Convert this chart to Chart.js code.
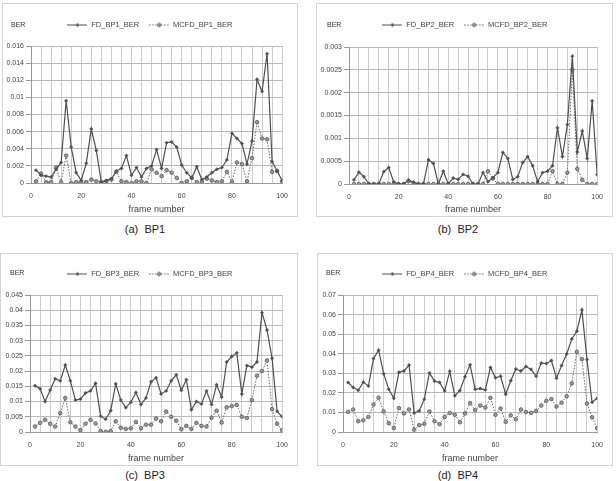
<!DOCTYPE html>
<html><head><meta charset="utf-8">
<script src="https://cdn.jsdelivr.net/npm/chart.js@4.4.1/dist/chart.umd.min.js"></script>
<style>
body{margin:0;width:616px;height:481px;background:#fff;position:relative;overflow:hidden;font-family:'Liberation Sans',Arial,sans-serif}
.box{position:absolute;border:1px solid #d4d4d4;box-sizing:border-box}
.box canvas{position:absolute;left:0;top:0}
.ber{position:absolute;font-size:7px;color:#333;transform:translateY(-50%)}
.cap{position:absolute;font-size:11px;color:#222;transform:translate(-50%,-50%);white-space:pre}
</style></head><body>
<script>
// ---------- data ----------
const frames = [2,4,6,8,10,12,14,16,18,20,22,24,26,28,30,32,34,36,38,40,42,44,46,48,50,52,54,56,58,60,62,64,66,68,70,72,74,76,78,80,82,84,86,88,90,92,94,96,98,100];
const xGridValues = [0,4,8,12,16,20,24,28,32,36,40,44,48,52,56,60,64,68,72,76,80,84,88,92,96,100];
const xTickLabels = [0,20,40,60,80,100];

const FD_BP1 = [0.0015,0.0009,0.0008,0.0007,0.0016,0.0024,0.0096,0.0042,0.0012,0.0003,0.0023,0.0063,0.0038,0.0001,0.0003,0.0005,0.0014,0.0017,0.0032,0.0009,0.0018,0.0007,0.0017,0.0020,0.0039,0.0017,0.0047,0.0048,0.0042,0.0021,0.0012,0.0006,0.0019,0.0004,0.0007,0.0012,0.0016,0.0018,0.0027,0.0058,0.0052,0.0046,0.0022,0.0049,0.0121,0.0107,0.0151,0.0025,0.0014,0.0003];
const MCFD_BP1 = [0.0002,0.0011,0.0001,0.0001,0.0018,0.0001,0.0032,0.0000,0.0001,0.0001,0.0001,0.0004,0.0002,0.0001,0.0002,0.0004,0.0013,0.0002,0.0001,0.0000,0.0002,0.0002,0.0000,0.0016,0.0012,0.0008,0.0015,0.0012,0.0006,0.0000,0.0002,0.0006,0.0001,0.0001,0.0005,0.0003,0.0001,0.0002,0.0013,0.0001,0.0024,0.0022,0.0002,0.0029,0.0071,0.0052,0.0051,0.0013,0.0014,0.0002];

const FD_BP2 = [0.00009,0.00026,0.00016,0,0,0,0.00027,0.00036,0.00005,0,0,0.00009,0.00004,0,0,0.00053,0.00045,0,0.00028,0,0.00013,0.0001,0.00021,0.00017,0,0,0.00025,0.00005,0.00014,0.00025,0.00069,0.00056,0.0001,0.00016,0.00047,0.0006,0.0004,0.00005,0.00025,0.00028,0.0004,0.00123,0.0006,0.0013,0.0028,0.0007,0.00116,0.00056,0.00182,0.0002];
const MCFD_BP2 = [0,0,0,0,0,0,0,0,0,0,0,0.00006,0.00002,0,0,0,0,0,0,0,0,0,0,0,0,0,0,0.00028,0.00012,0,0,0,0,0,0,0,0,0,0,0,0.00028,0,0,0.00025,0.0025,0.00033,0.00009,0,0,0];

const FD_BP3 = [0.0152,0.0142,0.0100,0.0138,0.0175,0.0168,0.0220,0.0168,0.0105,0.0108,0.0128,0.0135,0.0160,0.0052,0.0042,0.0070,0.0158,0.0105,0.0080,0.0098,0.0130,0.0090,0.0112,0.0165,0.0178,0.0125,0.0135,0.0168,0.0188,0.0137,0.0172,0.0073,0.0100,0.0092,0.0135,0.0090,0.0155,0.0115,0.0230,0.0248,0.0260,0.0125,0.0218,0.0213,0.0230,0.0392,0.0335,0.0242,0.0068,0.0050];
const MCFD_BP3 = [0.0018,0.0030,0.0040,0.0027,0.0018,0.0062,0.0112,0.0032,0.0018,0.0006,0.0027,0.0040,0.0028,0.0003,0.0001,0.0003,0.0035,0.0014,0.0010,0.0012,0.0033,0.0012,0.0024,0.0024,0.0044,0.0035,0.0067,0.0050,0.0037,0.0009,0.0020,0.0010,0.0030,0.0020,0.0018,0.0047,0.0070,0.0031,0.0081,0.0085,0.0089,0.0050,0.0046,0.0105,0.0185,0.0200,0.0235,0.0075,0.0027,0.0006];

const FD_BP4 = [0.0253,0.0228,0.0213,0.0255,0.0235,0.0375,0.0418,0.0298,0.0218,0.0172,0.0305,0.0312,0.0342,0.0097,0.0108,0.0168,0.0302,0.0260,0.0253,0.0210,0.0310,0.0185,0.0212,0.0282,0.0343,0.0218,0.0222,0.0215,0.0330,0.0277,0.0285,0.0193,0.0262,0.0322,0.0312,0.0335,0.0320,0.0285,0.0352,0.0350,0.0365,0.0275,0.0340,0.0398,0.0475,0.0515,0.0623,0.0370,0.0152,0.0172];
const MCFD_BP4 = [0.0103,0.0115,0.0055,0.0060,0.0077,0.0140,0.0175,0.0105,0.0045,0.0020,0.0122,0.0095,0.0115,0.0012,0.0035,0.0042,0.0105,0.0055,0.0040,0.0077,0.0097,0.0088,0.0050,0.0095,0.0148,0.0112,0.0135,0.0125,0.0175,0.0088,0.0120,0.0052,0.0085,0.0065,0.0115,0.0102,0.0098,0.0108,0.0135,0.0160,0.0168,0.0130,0.0150,0.0182,0.0248,0.0410,0.0372,0.0145,0.0075,0.0020];

const yTicks_BP1 = [0,0.002,0.004,0.006,0.008,0.01,0.012,0.014,0.016];
const yTicks_BP2 = [0,0.0005,0.001,0.0015,0.002,0.0025,0.003];
const yTicks_BP3 = [0,0.005,0.01,0.015,0.02,0.025,0.03,0.035,0.04,0.045];
const yTicks_BP4 = [0,0.01,0.02,0.03,0.04,0.05,0.06,0.07];

const seriesNames = {
  a:['FD_BP1_BER','MCFD_BP1_BER'], b:['FD_BP2_BER','MCFD_BP2_BER'],
  c:['FD_BP3_BER','MCFD_BP3_BER'], d:['FD_BP4_BER','MCFD_BP4_BER']
};
const captions = {a:'(a)  BP1', b:'(b)  BP2', c:'(c)  BP3', d:'(d)  BP4'};

// ---------- layout (page pixels) ----------
const panels = [
  {id:'a', fd:FD_BP1, mc:MCFD_BP1, yt:yTicks_BP1, box:[2,3,296,214],   plot:[31,287,46,183],  legY:25, legX:150, ber:[11,24],  cap:[145,229]},
  {id:'b', fd:FD_BP2, mc:MCFD_BP2, yt:yTicks_BP2, box:[316,3,297,214], plot:[349,601,47,184], legY:25, legX:465, ber:[327,24], cap:[458,229]},
  {id:'c', fd:FD_BP3, mc:MCFD_BP3, yt:yTicks_BP3, box:[0,253,298,213], plot:[30,287,295,432], legY:274, legX:150, ber:[10,272], cap:[145,475]},
  {id:'d', fd:FD_BP4, mc:MCFD_BP4, yt:yTicks_BP4, box:[317,253,296,213], plot:[343,598,295,432], legY:274, legX:465, ber:[326,272], cap:[458,475]}
];

const FD_COLOR = '#505050', MC_COLOR = '#666666';
const LEG_FONT = 7.5, LEG_PAD = 10, SAMPLE_W = 20;
const FONT = "'Liberation Sans', Arial, sans-serif";

function legendSample(dashed){
  const c = document.createElement('canvas');
  c.width = SAMPLE_W; c.height = 7;
  const g = c.getContext('2d');
  g.strokeStyle = dashed ? MC_COLOR : FD_COLOR;
  g.lineWidth = 1;
  if (dashed) g.setLineDash([1.5,1.5]);
  g.beginPath(); g.moveTo(0,3.5); g.lineTo(SAMPLE_W,3.5); g.stroke();
  g.setLineDash([]);
  if (dashed){
    g.fillStyle = '#9a9a9a'; g.beginPath(); g.arc(SAMPLE_W/2,3.5,1.7,0,Math.PI*2); g.fill(); g.stroke();
  } else {
    g.fillStyle = FD_COLOR; g.beginPath();
    g.moveTo(SAMPLE_W/2,1.5); g.lineTo(SAMPLE_W/2+2,3.5); g.lineTo(SAMPLE_W/2,5.5); g.lineTo(SAMPLE_W/2-2,3.5); g.closePath(); g.fill();
  }
  return c;
}

function fmt(v){ return String(parseFloat(v.toFixed(6))); }

panels.forEach(p => {
  const [bx,by,bw,bh] = p.box;
  const box = document.createElement('div');
  box.className = 'box';
  Object.assign(box.style,{left:bx+'px',top:by+'px',width:bw+'px',height:bh+'px'});
  document.body.appendChild(box);
  const ox = bx+1, oy = by+1, CW = bw-2, CH = bh-2;
  const cv = document.createElement('canvas');
  cv.width = CW; cv.height = CH;
  cv.style.width = CW+'px'; cv.style.height = CH+'px';
  box.appendChild(cv);

  const ber = document.createElement('div');
  ber.className = 'ber'; ber.textContent = 'BER';
  ber.style.left = p.ber[0]+'px'; ber.style.top = p.ber[1]+'px';
  document.body.appendChild(ber);
  const cap = document.createElement('div');
  cap.className = 'cap'; cap.textContent = captions[p.id];
  cap.style.left = p.cap[0]+'px'; cap.style.top = p.cap[1]+'px';
  document.body.appendChild(cap);

  const L = p.plot[0]-ox, R = p.plot[1]-ox, T = p.plot[2]-oy, B = p.plot[3]-oy;
  const LY = p.legY-oy, LX = p.legX-ox;
  const padR = CW - R;
  const legShift = LX - R/2;
  const padTop = LY - LEG_PAD - LEG_FONT/2;
  const extra = T - padTop - (LEG_FONT + LEG_PAD + 10);
  const samples = [legendSample(false), legendSample(true)];

  new Chart(cv, {
    type:'line',
    data:{ datasets:[
      { label:seriesNames[p.id][0], data:frames.map((f,i)=>({x:f,y:p.fd[i]})),
        borderColor:FD_COLOR, borderWidth:1.2, pointStyle:'rectRot', pointRadius:1.7,
        pointBackgroundColor:FD_COLOR, pointBorderColor:FD_COLOR, pointBorderWidth:0.5, tension:0 },
      { label:seriesNames[p.id][1], data:frames.map((f,i)=>({x:f,y:p.mc[i]})),
        borderColor:MC_COLOR, borderWidth:1, borderDash:[1.5,1.5], pointStyle:'circle', pointRadius:1.8,
        pointBackgroundColor:'#9a9a9a', pointBorderColor:'#555', pointBorderWidth:0.8, tension:0 }
    ]},
    options:{
      responsive:false, animation:false, events:[],
      layout:{ padding:{ left:0, right:padR, top:padTop, bottom:0 } },
      plugins:{
        tooltip:{enabled:false},
        legend:{ position:'top', align:'center',
          labels:{ usePointStyle:true, pointStyleWidth:SAMPLE_W, padding:LEG_PAD, color:'#444',
            font:{family:FONT, size:LEG_FONT},
            generateLabels:(chart)=>{
              const items = Chart.defaults.plugins.legend.labels.generateLabels(chart);
              items.forEach((it,i)=>{ it.pointStyle = samples[i]; });
              return items;
            } } }
      },
      scales:{
        x:{ type:'linear', min:0, max:100,
          afterBuildTicks:s=>{ s.ticks = xGridValues.map(v=>({value:v})); },
          afterFit:s=>{ s.height = CH - B; },
          grid:{ color:'#cdcdcd', lineWidth:1, drawTicks:false },
          border:{ color:'#9a9a9a' },
          ticks:{ padding:9, maxRotation:0, autoSkip:false, color:'#444',
            font:{family:FONT, size:7},
            callback:v=> xTickLabels.includes(v) ? String(v) : '' },
          title:{ display:true, text:'frame number', color:'#444', padding:{top:0,bottom:1},
            font:{family:FONT, size:9} }
        },
        y:{ type:'linear', min:0, max:p.yt[p.yt.length-1],
          afterBuildTicks:s=>{ s.ticks = p.yt.map(v=>({value:v})); },
          afterFit:s=>{ s.width = L; },
          grid:{ color:'#b9b9b9', lineWidth:1, drawTicks:true, tickLength:5, tickColor:'#9a9a9a' },
          border:{ color:'#9a9a9a' },
          ticks:{ padding:2, color:'#444', font:{family:FONT, size:7},
            callback:v=>fmt(v) }
        }
      }
    },
    plugins:[{ id:'legendGap', afterInit(chart){
      const lg = chart.legend;
      if (lg && !lg._gapPatched){
        const f = lg.fit;
        lg.fit = function(){ f.call(this); if (this.height) this.height += extra; };
        const d = lg.draw;
        lg.draw = function(){
          const l = this.left, r = this.right;
          this.left = l + legShift; this.right = r + legShift;
          d.apply(this, arguments);
          this.left = l; this.right = r;
        };
        lg._gapPatched = true;
      }
    }}]
  });
});
</script>
</body></html>
